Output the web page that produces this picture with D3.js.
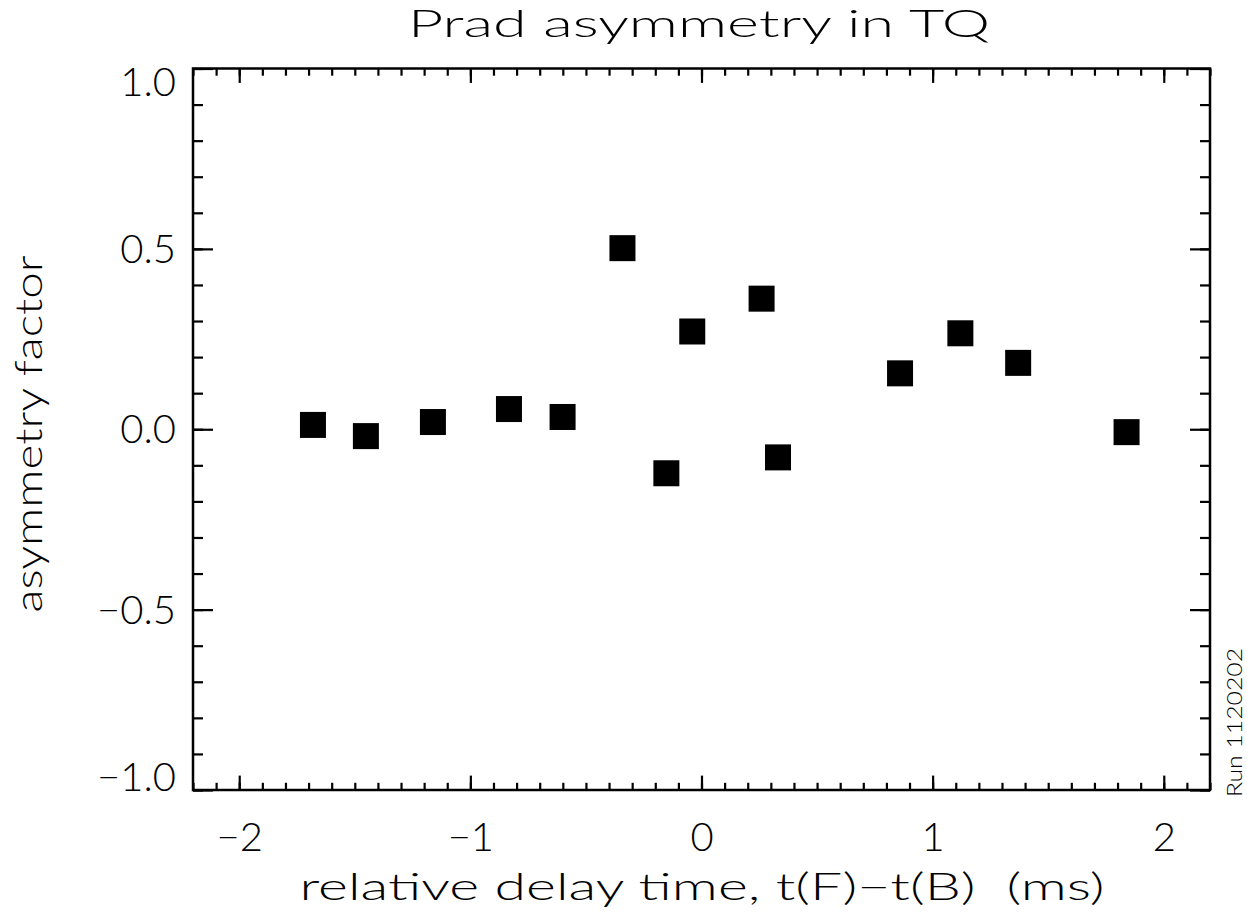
<!DOCTYPE html>
<html>
<head>
<meta charset="utf-8">
<script src="https://cdn.jsdelivr.net/npm/d3@7"></script>
<style>
  body { margin: 0; background: #fff; }
  text { font-family: Lato, "Liberation Sans", Arial, sans-serif; font-weight: 300; fill: #000; }
</style>
</head>
<body>
<svg width="1247" height="912"></svg>
<script>
// asymmetry factor vs relative delay time
var delay = [-1.681, -1.452, -1.162, -0.833, -0.601, -0.342, -0.152, -0.040, 0.260, 0.331, 0.859, 1.120, 1.370, 1.839];
var asym  = [0.012, -0.019, 0.020, 0.056, 0.034, 0.502, -0.122, 0.271, 0.362, -0.078, 0.155, 0.266, 0.184, -0.008];

var xMajor = [-2, -1, 0, 1, 2];
var xMajorLabels = ['\u22122', '\u22121', '0', '1', '2'];
var yMajor = [-1.0, -0.5, 0.0, 0.5, 1.0];
var yMajorLabels = ['\u22121.0', '\u22120.5', '0.0', '0.5', '1.0'];
var xMinor = d3.range(-22, 23).map(function (d) { return d / 10; });
var yMinor = d3.range(-10, 11).map(function (d) { return d / 10; });

// plot box (note: "top" is taken by window.top)
var pL = 193, pR = 1210, pT = 68.5, pB = 790;
var svg = d3.select('svg');

var x = d3.scaleLinear().domain([-2.2, 2.2]).range([pL, pR]);
var y = d3.scaleLinear().domain([-1, 1]).range([pB, pT]);

var xLen = 14.4, yLen = 20;

function noDomain(g) { g.select('.domain').remove(); }

// minor ticks, all four sides, pointing inward
svg.append('g').attr('transform', 'translate(0,' + pB + ')')
  .call(d3.axisBottom(x).tickValues(xMinor).tickSize(-xLen / 2).tickFormat(''))
  .call(noDomain);
svg.append('g').attr('transform', 'translate(0,' + pT + ')')
  .call(d3.axisTop(x).tickValues(xMinor).tickSize(-xLen / 2).tickFormat(''))
  .call(noDomain);
svg.append('g').attr('transform', 'translate(' + pL + ',0)')
  .call(d3.axisLeft(y).tickValues(yMinor).tickSize(-yLen / 2).tickFormat(''))
  .call(noDomain);
svg.append('g').attr('transform', 'translate(' + pR + ',0)')
  .call(d3.axisRight(y).tickValues(yMinor).tickSize(-yLen / 2).tickFormat(''))
  .call(noDomain);

// major ticks
var xb = svg.append('g').attr('transform', 'translate(0,' + pB + ')')
  .call(d3.axisBottom(x).tickValues(xMajor).tickSize(-xLen)
    .tickFormat(function (d, i) { return xMajorLabels[i]; }))
  .call(noDomain);
xb.selectAll('text').attr('y', 61).attr('dy', null)
  .style('font-size', '40px');

svg.append('g').attr('transform', 'translate(0,' + pT + ')')
  .call(d3.axisTop(x).tickValues(xMajor).tickSize(-xLen).tickFormat(''))
  .call(noDomain);

var yl = svg.append('g').attr('transform', 'translate(' + pL + ',0)')
  .call(d3.axisLeft(y).tickValues(yMajor).tickSize(-yLen)
    .tickFormat(function (d, i) { return yMajorLabels[i]; }))
  .call(noDomain);
yl.selectAll('text')
  .attr('x', -17).attr('dy', null)
  .attr('y', function (d) {
    var c = Math.max(pT + 13.5, Math.min(pB - 13.5, y(d)));
    return c - y(d) + 13.5;
  })
  .style('font-size', '40px');

svg.append('g').attr('transform', 'translate(' + pR + ',0)')
  .call(d3.axisRight(y).tickValues(yMajor).tickSize(-yLen).tickFormat(''))
  .call(noDomain);

svg.selectAll('.tick line').attr('stroke', '#000').attr('stroke-width', 2.2);

// frame
svg.append('rect')
  .attr('x', pL).attr('y', pT)
  .attr('width', pR - pL).attr('height', pB - pT)
  .attr('fill', 'none').attr('stroke', '#000').attr('stroke-width', 2.5);

// points
var sz = 26;
svg.append('g').selectAll('rect')
  .data(delay)
  .enter().append('rect')
  .attr('x', function (d) { return x(d) - sz / 2; })
  .attr('y', function (d, i) { return y(asym[i]) - sz / 2; })
  .attr('width', sz).attr('height', sz)
  .attr('fill', '#000');

// titles
svg.append('text')
  .attr('x', 699).attr('y', 37)
  .attr('text-anchor', 'middle')
  .attr('textLength', 582).attr('lengthAdjust', 'spacingAndGlyphs')
  .style('font-size', '38px')
  .text('Prad asymmetry in TQ');

svg.append('text')
  .attr('x', 702).attr('y', 900)
  .attr('text-anchor', 'middle')
  .attr('textLength', 805).attr('lengthAdjust', 'spacingAndGlyphs')
  .style('font-size', '38px')
  .style('white-space', 'pre')
  .text('relative delay time, t(F)\u2212t(B)  (ms)');

svg.append('text')
  .attr('transform', 'translate(42,434) rotate(-90)')
  .attr('text-anchor', 'middle')
  .attr('textLength', 357).attr('lengthAdjust', 'spacingAndGlyphs')
  .style('font-size', '38px')
  .text('asymmetry factor');

svg.append('text')
  .attr('transform', 'translate(1242,797) rotate(-90)')
  .attr('text-anchor', 'start')
  .attr('textLength', 149).attr('lengthAdjust', 'spacingAndGlyphs')
  .style('font-size', '21px')
  .text('Run 1120202');
</script>
</body>
</html>
